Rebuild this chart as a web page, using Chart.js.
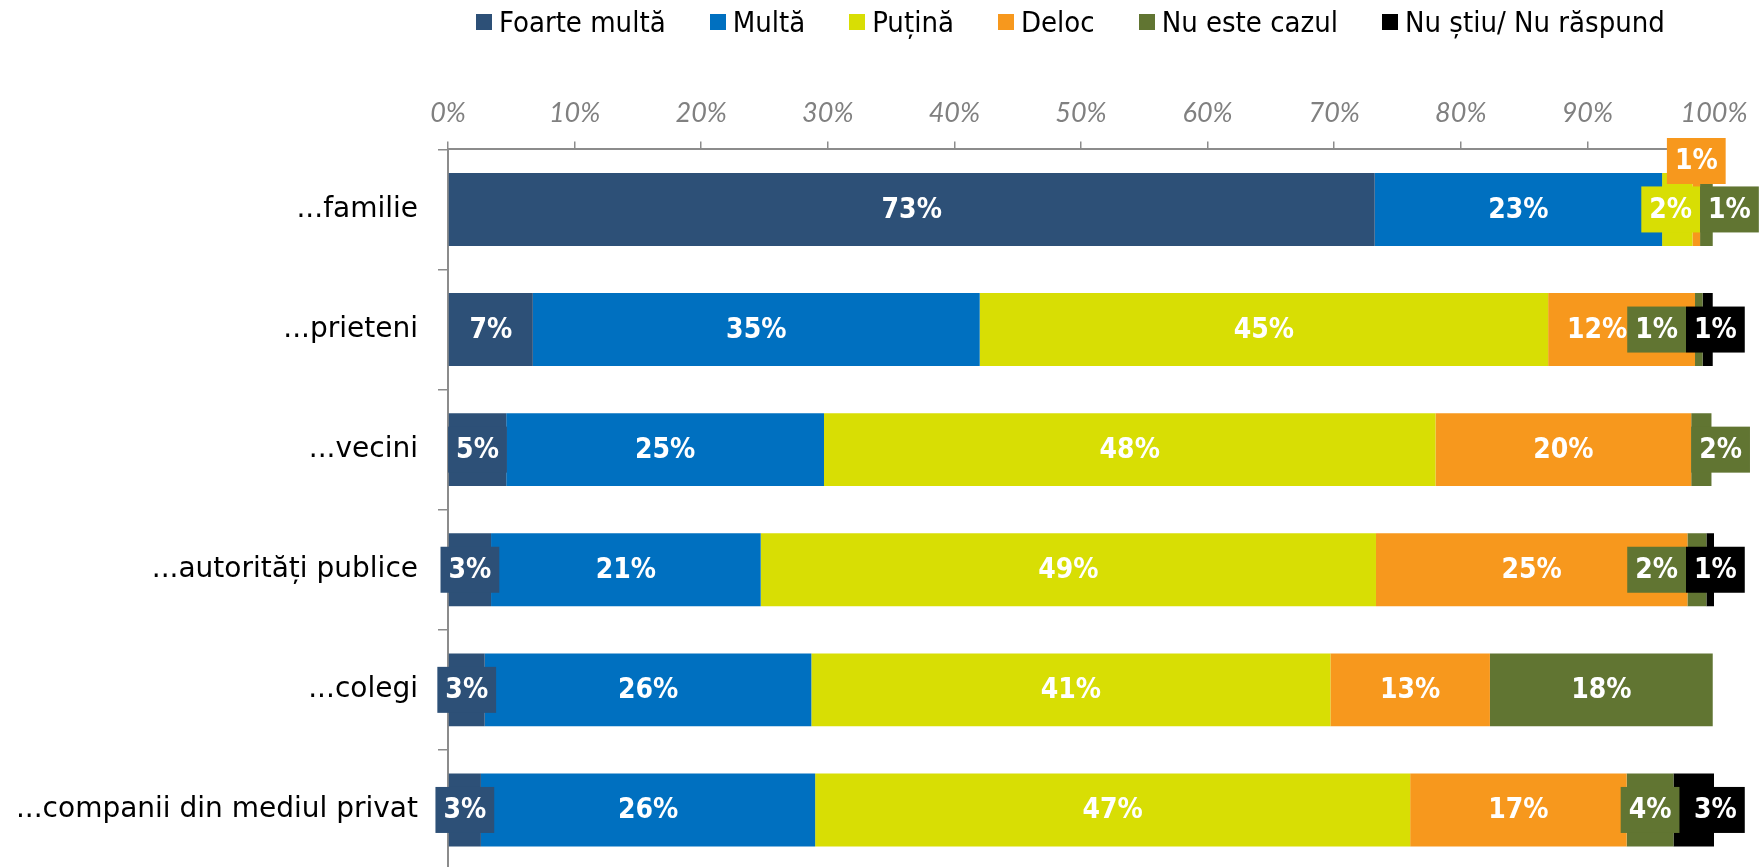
<!DOCTYPE html>
<html><head><meta charset="utf-8">
<script src="https://cdn.jsdelivr.net/npm/chart.js@4.4.1/dist/chart.umd.min.js"></script>
<style>
html,body{margin:0;padding:0;background:#fff;overflow:hidden;width:1764px;height:867px}
#wrap{position:relative;width:1764px;height:870px}
#legend{position:absolute;left:476px;top:4px;display:flex;align-items:center;font-family:"DejaVu Sans Condensed","DejaVu Sans",sans-serif;font-size:29px;color:#000;white-space:nowrap;line-height:36px}
.item{display:flex;align-items:center;margin-right:44px}
.sw{width:16px;height:16px;margin-right:7px;flex:none}
canvas{position:absolute;left:0;top:0}
</style></head><body>
<div id="wrap"><canvas id="c" width="1764" height="870"></canvas><div id="legend"></div></div>
<script>
const categories = ['...familie', '...prieteni', '...vecini', '...autorități publice', '...colegi', '...companii din mediul privat'];
const seriesNames = ['Foarte multă', 'Multă', 'Puțină', 'Deloc', 'Nu este cazul', 'Nu știu/ Nu răspund'];
const foarteMulta = [73.2, 6.7, 4.6, 3.4, 2.9, 2.6];
const multa       = [22.7, 35.3, 25.1, 21.3, 25.8, 26.4];
const putina      = [2.4, 44.9, 48.3, 48.6, 41.0, 47.0];
const deloc       = [0.6, 11.6, 20.2, 24.6, 12.6, 17.1];
const nuEsteCazul = [1.0, 0.6, 1.6, 1.5, 17.6, 3.7];
const nuStiu      = [0, 0.8, 0, 0.6, 0, 3.2];
const xTickValues = [0, 10, 20, 30, 40, 50, 60, 70, 80, 90, 100];

const seriesValues = [foarteMulta, multa, putina, deloc, nuEsteCazul, nuStiu];
const colors = ['#2D5077', '#0070C0', '#D8DE04', '#F7981D', '#617532', '#000000'];

// HTML legend
const lg = document.getElementById('legend');
seriesNames.forEach((n, i) => {
  const it = document.createElement('div'); it.className = 'item';
  const sw = document.createElement('div'); sw.className = 'sw'; sw.style.background = colors[i];
  const tx = document.createElement('span'); tx.textContent = n;
  it.appendChild(sw); it.appendChild(tx); lg.appendChild(it);
});

const labelPlugin = {
  id: 'segLabels',
  afterDatasetsDraw(chart) {
    const ctx = chart.ctx;
    ctx.save();
    ctx.font = 'bold 28px "DejaVu Sans Condensed", "DejaVu Sans", sans-serif';
    ctx.textAlign = 'center'; ctx.textBaseline = 'middle';
    const padX = 8, boxH = 46, pairInset = 28;
    const n = chart.data.labels.length;
    for (let j = 0; j < n; j++) {
      const items = [];
      chart.data.datasets.forEach((ds, i) => {
        const v = ds.data[j]; if (!v) return;
        const el = chart.getDatasetMeta(i).data[j];
        const segL = Math.min(el.x, el.base), segR = Math.max(el.x, el.base);
        const text = Math.round(v) + '%';
        const tw = ctx.measureText(text).width;
        const bw = tw + 2 * padX;
        items.push({text, tw, bw, segL, segR, cx: (segL + segR) / 2, y: el.y, h: el.height,
          color: ds.backgroundColor, boxed: bw > segR - segL});
      });
      let k = 0;
      while (k < items.length) {
        if (items[k].boxed) {
          let m = k; while (m + 1 < items.length && items[m + 1].boxed) m++;
          if (m - k + 1 >= 3) { for (let q = k + 1; q < m; q++) items[q].above = true; }
          k = m + 1;
        } else k++;
      }
      const L = items.length;
      const last = items[L - 1];
      if (last && last.boxed) {
        const prev = items[L - 2];
        if (prev && prev.boxed && !prev.above) last.cx = chart.chartArea.right - pairInset + last.bw / 2;
        else last.cx = last.segL + last.bw / 2;
      }
      const row = items.filter(it => !it.above);
      for (let q = row.length - 2; q >= 0; q--) {
        const a = row[q], b = row[q + 1];
        const aw = a.boxed ? a.bw : a.tw, bw = b.boxed ? b.bw : b.tw;
        const overlap = (a.cx + aw / 2) - (b.cx - bw / 2);
        if (overlap > 0) a.cx -= overlap;
      }
      items.forEach(it => {
        let cy = it.y; if (it.above) cy = it.y - it.h / 2 - 12;
        if (it.boxed) { ctx.fillStyle = it.color; ctx.fillRect(it.cx - it.bw / 2, cy - boxH / 2, it.bw, boxH); }
        ctx.fillStyle = '#fff'; ctx.fillText(it.text, it.cx, cy + 1);
      });
    }
    ctx.restore();
  }
};

new Chart(document.getElementById('c'), {
  type: 'bar',
  data: {
    labels: categories,
    datasets: seriesNames.map((name, i) => ({
      label: name, data: seriesValues[i], backgroundColor: colors[i],
      borderWidth: 0, barPercentage: 0.607, categoryPercentage: 1
    }))
  },
  options: {
    indexAxis: 'y', responsive: false, animation: false,
    layout: {padding: {top: 85, right: 50, left: 0, bottom: 0}},
    plugins: {legend: {display: false}, tooltip: {enabled: false}},
    scales: {
      x: {
        position: 'top', stacked: true, min: 0, max: 100,
        afterBuildTicks: s => { s.ticks = xTickValues.map(v => ({value: v})); },
        ticks: {callback: v => v + '%', color: '#808080', font: {family: 'Lato', style: 'italic', size: 27}, padding: 12},
        grid: {drawOnChartArea: false, tickLength: 8, color: '#8c8c8c', lineWidth: 1.5},
        border: {color: '#8c8c8c', width: 2}
      },
      y: {
        stacked: true,
        ticks: {color: '#000', font: {family: 'DejaVu Sans', size: 28}, padding: 20},
        grid: {offset: true, drawOnChartArea: false, tickLength: 10, color: '#8c8c8c', lineWidth: 1.5},
        border: {color: '#8c8c8c', width: 2},
        afterFit: s => { s.width = 448; s.paddingTop = 0; s.paddingBottom = 0; }
      }
    }
  },
  plugins: [labelPlugin]
});
</script>
</body></html>
